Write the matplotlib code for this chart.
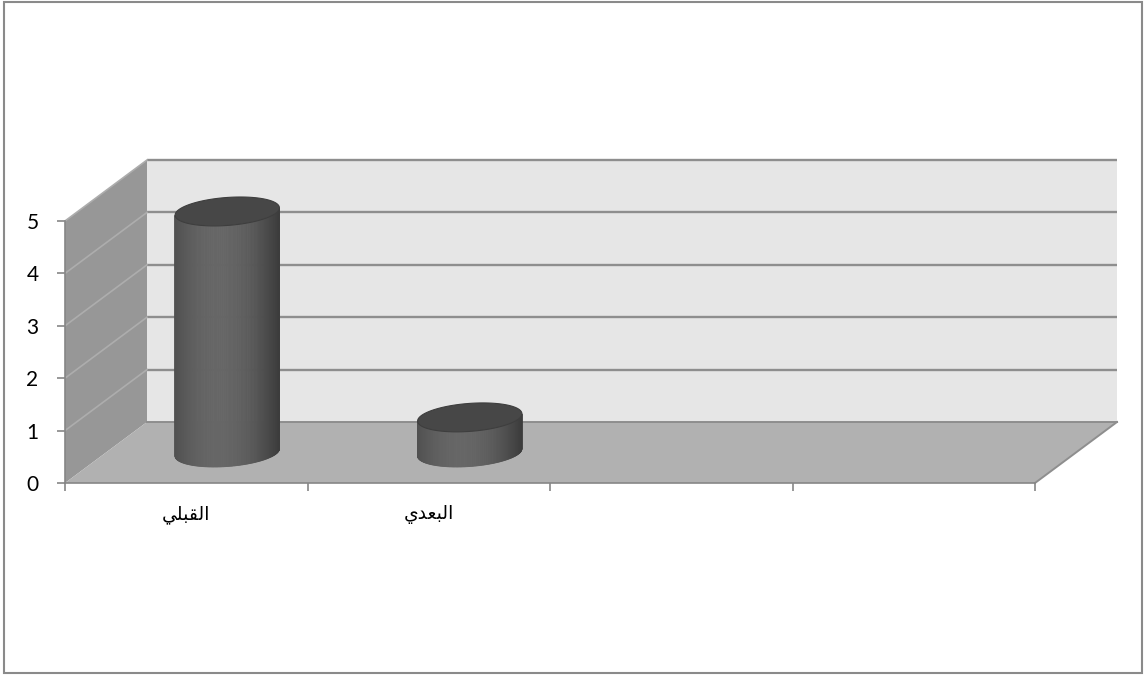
import numpy as np
import matplotlib
matplotlib.use("Agg")
import matplotlib.pyplot as plt
from matplotlib.patches import Polygon, Rectangle
from matplotlib.transforms import IdentityTransform

# ---- data -------------------------------------------------------------
categories = ['القبلي', 'البعدي', '', '']
values = [4.6, 0.67]
y_ticks = [0, 1, 2, 3, 4, 5]

# ---- minimal Arabic shaping (presentation forms, visual order) --------
FORMS = {  # isolated, final, initial, medial
    'ا': ('\uFE8D', '\uFE8E', None, None),
    'ل': ('\uFEDD', '\uFEDE', '\uFEDF', '\uFEE0'),
    'ق': ('\uFED5', '\uFED6', '\uFED7', '\uFED8'),
    'ب': ('\uFE8F', '\uFE90', '\uFE91', '\uFE92'),
    'ي': ('\uFEF1', '\uFEF2', '\uFEF3', '\uFEF4'),
    'ع': ('\uFEC9', '\uFECA', '\uFECB', '\uFECC'),
    'د': ('\uFEA9', '\uFEAA', None, None),
}


def shape(word):
    out = []
    n = len(word)
    for i, ch in enumerate(word):
        iso, fin, ini, med = FORMS[ch]
        prev_joins = i > 0 and FORMS[word[i - 1]][2] is not None
        next_exists = i < n - 1
        can_fwd = ini is not None
        if prev_joins and next_exists and can_fwd:
            out.append(med)
        elif prev_joins:
            out.append(fin)
        elif next_exists and can_fwd:
            out.append(ini)
        else:
            out.append(iso)
    return ''.join(reversed(out))


# ---- figure / axes ----------------------------------------------------
W, H = 1146, 675
fig = plt.figure(figsize=(W / 100, H / 100), dpi=100)
fig.patch.set_facecolor('white')
ax = fig.add_axes([65 / W, (H - 483) / H, 970 / W, 262 / H])
ax.set_xlim(0, len(categories))
ax.set_ylim(0, 5)
ax.patch.set_visible(False)

DX, DY = 82, 61  # depth offset of the back wall in pixels
ident = IdentityTransform()


def proj(x, y, d):
    px, py = ax.transData.transform((x, y))
    return px + DX * d, py + DY * d


ncat = len(categories)
vmax = y_ticks[-1]

# left side wall
left_wall = [proj(0, 0, 0), proj(0, vmax, 0), proj(0, vmax, 1), proj(0, 0, 1)]
ax.add_patch(Polygon(left_wall, closed=True, transform=ident, facecolor='#979797',
                     edgecolor='none', zorder=1, clip_on=False))
# back wall
back_wall = [proj(0, 0, 1), proj(ncat, 0, 1), proj(ncat, vmax, 1), proj(0, vmax, 1)]
ax.add_patch(Polygon(back_wall, closed=True, transform=ident, facecolor='#e6e6e6',
                     edgecolor='none', zorder=1, clip_on=False))
# floor
floor = [proj(0, 0, 0), proj(ncat, 0, 0), proj(ncat, 0, 1), proj(0, 0, 1)]
ax.add_patch(Polygon(floor, closed=True, transform=ident, facecolor='#b1b1b1',
                     edgecolor='none', zorder=1, clip_on=False))

# gridlines on the walls
for v in y_ticks[1:]:
    (x0, y0), (x1, y1) = proj(0, v, 1), proj(ncat, v, 1)
    ax.plot([x0, x1], [y0, y1], transform=ident, color='#8e8e8e', lw=1.7,
            zorder=2, clip_on=False, solid_capstyle='butt')
    (x0, y0), (x1, y1) = proj(0, v, 0), proj(0, v, 1)
    ax.plot([x0, x1], [y0, y1], transform=ident, color='#adadad', lw=1.2,
            zorder=2, clip_on=False)

# floor edges
for a, b in [((0, 0, 1), (ncat, 0, 1)), ((ncat, 0, 0), (ncat, 0, 1))]:
    (x0, y0), (x1, y1) = proj(*a), proj(*b)
    ax.plot([x0, x1], [y0, y1], transform=ident, color='#8e8e8e', lw=1.4,
            zorder=2, clip_on=False)

# ---- cylinders --------------------------------------------------------
BAR_WIDTH = 0.43
B_PX = 14.0      # half height of the elliptical caps
SKEW = 0.07      # slight tilt of the caps
px_per_cat = ax.transData.transform((1, 0))[0] - ax.transData.transform((0, 0))[0]
A_PX = BAR_WIDTH * px_per_cat / 2


def shade(u):
    g = 0.235 + 0.165 * np.clip(1 - ((u - 0.42) / 0.58) ** 2, 0, 1)
    return (g, g, g)


for i, v in enumerate(values):
    cx, cy0 = proj(i + 0.5, 0, 0.5)
    _, cy1 = proj(i + 0.5, v, 0.5)
    t = np.linspace(np.pi, 2 * np.pi, 121)
    xs = cx + A_PX * np.cos(t)
    low = B_PX * np.sin(t) + SKEW * A_PX * np.cos(t)
    yb = cy0 + low
    yt = cy1 + low
    for k in range(len(t) - 1):
        u = ((xs[k] + xs[k + 1]) / 2 - (cx - A_PX)) / (2 * A_PX)
        c = shade(u)
        quad = [(xs[k], yb[k]), (xs[k + 1], yb[k + 1]),
                (xs[k + 1], yt[k + 1]), (xs[k], yt[k])]
        ax.add_patch(Polygon(quad, closed=True, transform=ident, facecolor=c,
                             edgecolor=c, lw=0.6, zorder=4, clip_on=False))
    tt = np.linspace(0, 2 * np.pi, 200)
    top = np.column_stack([cx + A_PX * np.cos(tt),
                           cy1 + B_PX * np.sin(tt) + SKEW * A_PX * np.cos(tt)])
    ax.add_patch(Polygon(top, closed=True, transform=ident, facecolor='#474747',
                         edgecolor='#3e3e3e', lw=0.8, zorder=5, clip_on=False))

# ---- axes styling -----------------------------------------------------
for s in ['top', 'right']:
    ax.spines[s].set_visible(False)
for s in ['left', 'bottom']:
    ax.spines[s].set_color('#868686')
    ax.spines[s].set_linewidth(1.2)
    ax.spines[s].set_zorder(3)

ax.set_yticks(y_ticks)
ax.set_yticklabels([str(v) for v in y_ticks], fontsize=15, family='Lato')
ax.tick_params(axis='y', length=6, width=1.2, color='#868686', pad=13, labelcolor='black')

ax.set_xticks(np.arange(ncat + 1))
ax.set_xticklabels([])
ax.tick_params(axis='x', which='major', length=6, width=1.2, color='#868686')
ax.set_xticks(np.arange(ncat) + 0.5, minor=True)
ax.set_xticklabels([shape(c) if c else '' for c in categories], minor=True,
                   fontsize=13.5, family='DejaVu Sans')
ax.tick_params(axis='x', which='minor', length=0, pad=16)

# chart frame
fig.patches.append(Rectangle((3.5 / W, 2.0 / H), (1142 - 3.5) / W, (673 - 2.0) / H,
                             transform=fig.transFigure, fill=False,
                             edgecolor='#8a8a8a', lw=1.5))

fig.savefig('out.png', dpi=100)
